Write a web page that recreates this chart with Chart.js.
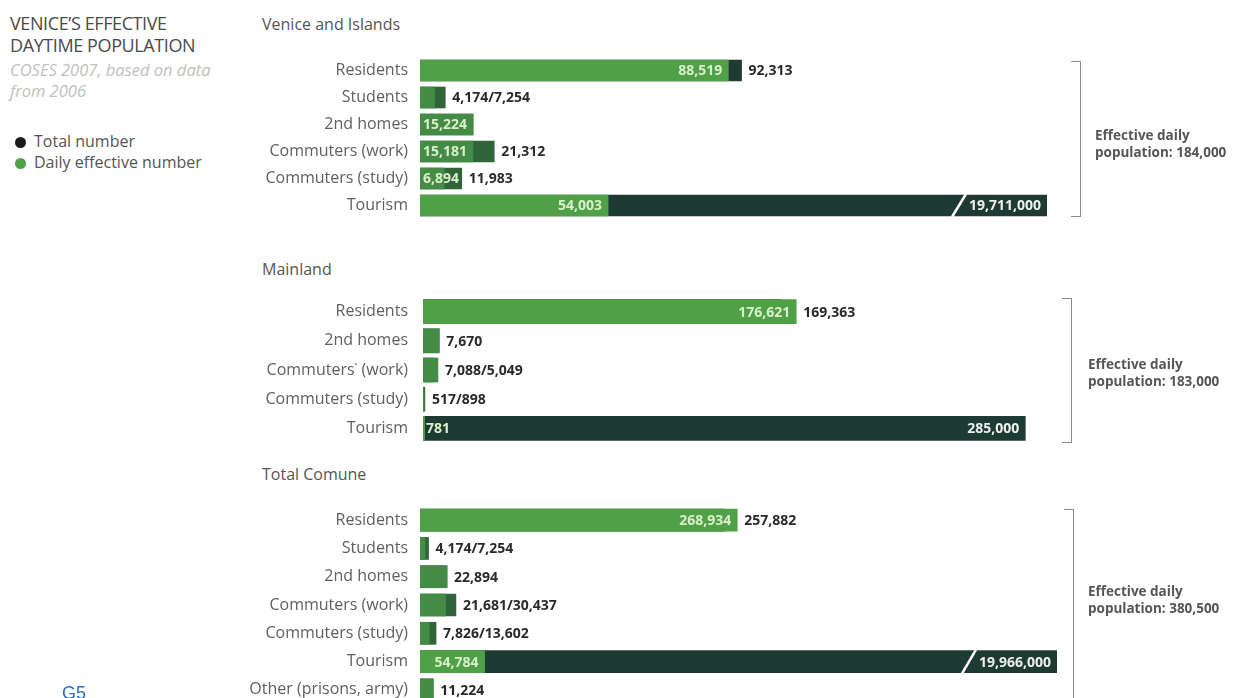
<!DOCTYPE html>
<html>
<head>
<meta charset="utf-8">
<title>Venice's effective daytime population</title>
<script src="https://cdn.jsdelivr.net/npm/chart.js@4.4.1/dist/chart.umd.min.js"></script>
<style>
  body { margin: 0; width: 1236px; height: 698px; overflow: hidden; background: #fff; position: relative; font-family: "Open Sans", sans-serif; }
  .abs { position: absolute; }
  .title { left: 10px; top: 12px; font-size: 18px; line-height: 22px; color: #4a4a4a; letter-spacing: -0.4px; }
  .source { left: 10px; top: 59px; font-size: 16.5px; line-height: 21px; color: #c0c0c0; font-style: italic; }
  .legend { left: 15px; top: 131px; font-size: 16px; line-height: 21px; color: #555; }
  .legend span.dot { display: inline-block; width: 11px; height: 11px; border-radius: 50%; margin-right: 8px; vertical-align: -1px; }
  .section { left: 262px; font-size: 16px; color: #555; }
  .bracket { border: 1.5px solid #8c8c8c; border-left: none; width: 9px; }
  .effective { font-size: 13.5px; font-weight: 700; line-height: 17px; color: #555; }
  .g5 { left: 62px; top: 684px; font-family: "Liberation Sans", Arial, sans-serif; font-size: 18px; color: #2a6fc0; line-height: 1; }
  canvas { position: absolute; left: 0; }
</style>
</head>
<body>
<div class="abs title">VENICE’S EFFECTIVE<br>DAYTIME POPULATION</div>
<div class="abs source">COSES 2007, based on data<br>from 2006</div>
<div class="abs legend">
  <div><span class="dot" style="background:#1c1c1c"></span>Total number</div>
  <div><span class="dot" style="background:#4fa046"></span>Daily effective number</div>
</div>

<div class="abs section" style="top:13px">Venice and Islands</div>
<div class="abs section" style="top:258px">Mainland</div>
<div class="abs section" style="top:463px">Total Comune</div>

<canvas id="chart-venice" width="1236" height="162" style="top:57px"></canvas>
<canvas id="chart-mainland" width="1236" height="146" style="top:297px"></canvas>
<canvas id="chart-comune" width="1236" height="198" style="top:506px"></canvas>

<div class="abs bracket" style="left:1071px; top:61px; height:154px"></div>
<div class="abs bracket" style="left:1062px; top:298px; height:143px"></div>
<div class="abs bracket" style="left:1064px; top:509px; height:200px"></div>

<div class="abs effective" id="eff-venice" style="left:1095px; top:127px"></div>
<div class="abs effective" id="eff-mainland" style="left:1088px; top:356px"></div>
<div class="abs effective" id="eff-comune" style="left:1088px; top:583px"></div>

<div class="abs g5">G5</div>

<script>
// Venice and Islands
const veniceRows = ["Residents", "Students", "2nd homes", "Commuters (work)", "Commuters (study)", "Tourism"];
const veniceTotal = [92313, 7254, 15224, 21312, 11983, 19711000];
const veniceEffective = [88519, 4174, 15224, 15181, 6894, 54003];

// Mainland
const mainlandRows = ["Residents", "2nd homes", "Commuters˙ (work)", "Commuters (study)", "Tourism"];
const mainlandTotal = [169363, 7670, 5049, 898, 285000];
const mainlandEffective = [176621, 7670, 7088, 517, 781];

// Total Comune
const comuneRows = ["Residents", "Students", "2nd homes", "Commuters (work)", "Commuters (study)", "Tourism", "Other (prisons, army)"];
const comuneTotal = [257882, 7254, 22894, 30437, 13602, 19966000, 11224];
const comuneEffective = [268934, 4174, 22894, 21681, 7826, 54784, 11224];

const effectivePopulation = ["184,000", "183,000", "380,500"];

// how the numbers are written next to each bar
const veniceLabelModes = ["split", "pair", "inside", "split", "split", "split"];
const mainlandLabelModes = ["split", "single", "pair", "pair", "split"];
const comuneLabelModes = ["split", "pair", "single", "pair", "pair", "split", "single"];

const Colors = {
  green: "#4fa046",
  greenSoft: "#448c45",
  dark: "#1d3b32",
  darkSoft: "#2f6538",
  text: "#606060",
  number: "#2a2a2a",
  onBar: "#d9efcc",
  onDark: "#eef0ee",
};

const isMajor = name => name === "Residents" || name === "Tourism";
const fmt = v => v.toLocaleString("en-US");

const valueLabels = {
  id: "valueLabels",
  afterDatasetsDraw(chart, args, opts) {
    const { ctx, chartArea } = chart;
    const totals = chart.getDatasetMeta(0).data;
    const effs = chart.getDatasetMeta(1).data;
    const totalVals = chart.data.datasets[0].data;
    const effVals = chart.data.datasets[1].data;

    ctx.save();
    ctx.font = "bold 14px 'Open Sans'";
    ctx.textBaseline = "middle";

    const effInside = (e, base, y, text) => {
      const end = Math.min(e.x, chartArea.right);
      const w = ctx.measureText(text).width;
      ctx.fillStyle = Colors.onBar;
      if (end - base > w + 10) {
        ctx.textAlign = "right";
        ctx.fillText(text, end - 6, y + 1);
      } else {
        ctx.textAlign = "left";
        ctx.fillText(text, base + 3, y + 1);
      }
    };

    opts.modes.forEach((mode, i) => {
      const t = totals[i], e = effs[i];
      const y = t.y, base = t.base;
      const tEnd = Math.min(t.x, chartArea.right);
      const eEnd = Math.min(e.x, chartArea.right);
      const outerX = Math.max(tEnd, eEnd) + 7;
      const tText = fmt(totalVals[i]);
      const eText = fmt(effVals[i]);

      if (mode === "pair" || mode === "single") {
        ctx.fillStyle = Colors.number;
        ctx.textAlign = "left";
        ctx.fillText(mode === "pair" ? eText + "/" + tText : tText, outerX, y + 1);
        return;
      }

      effInside(e, base, y, eText);
      if (mode === "inside") return;

      const w = ctx.measureText(tText).width;
      if (tEnd - eEnd > w + 20) {
        ctx.fillStyle = Colors.onDark;
        ctx.textAlign = "right";
        ctx.fillText(tText, tEnd - 6, y + 1);
        if (t.x > chartArea.right) {
          // break mark on a bar that runs off the scale
          const sx = tEnd - w - 16;
          const h = t.height / 2 + 1;
          ctx.strokeStyle = "#ffffff";
          ctx.lineWidth = 2.5;
          ctx.beginPath();
          ctx.moveTo(sx - 7, y + h);
          ctx.lineTo(sx + 7, y - h);
          ctx.stroke();
        }
      } else {
        ctx.fillStyle = Colors.number;
        ctx.textAlign = "left";
        ctx.fillText(tText, outerX, y + 1);
      }
    });
    ctx.restore();
  },
};

function createSectionChart(canvasId, rows, total, effective, modes, layout) {
  const el = document.getElementById(canvasId);
  if (!el || typeof Chart === "undefined") return null;

  return new Chart(el, {
    type: "bar",
    data: {
      labels: rows,
      datasets: [
        {
          label: "Total number",
          data: total,
          backgroundColor: rows.map(r => (isMajor(r) ? Colors.dark : Colors.darkSoft)),
          order: 2,
        },
        {
          label: "Daily effective number",
          data: effective,
          backgroundColor: rows.map(r => (isMajor(r) ? Colors.green : Colors.greenSoft)),
          order: 1,
        },
      ],
    },
    options: {
      indexAxis: "y",
      responsive: false,
      animation: false,
      events: [],
      layout: { padding: { left: 0, right: 1236 - layout.right, top: 0, bottom: 0 } },
      datasets: { bar: { grouped: false, barThickness: layout.thickness, borderWidth: 0 } },
      plugins: {
        legend: { display: false },
        tooltip: { enabled: false },
        valueLabels: { modes },
      },
      scales: {
        x: { display: false, min: 0, max: layout.max },
        y: {
          grid: { display: false, drawTicks: false },
          border: { display: false },
          afterFit: s => {
            // fixed gutter for the row names, no extra room above or below
            s.width = layout.left;
            s.paddingTop = 0;
            s.paddingBottom = 0;
          },
          ticks: {
            color: Colors.text,
            padding: layout.left - 408,
            font: { family: "Open Sans", size: 16 },
          },
        },
      },
    },
    plugins: [valueLabels],
  });
}

document.addEventListener("DOMContentLoaded", () => {
  createSectionChart("chart-venice", veniceRows, veniceTotal, veniceEffective, veniceLabelModes,
    { left: 420, right: 1047, max: 180000, thickness: 21 });
  createSectionChart("chart-mainland", mainlandRows, mainlandTotal, mainlandEffective, mainlandLabelModes,
    { left: 423, right: 1057, max: 300000, thickness: 24 });
  createSectionChart("chart-comune", comuneRows, comuneTotal, comuneEffective, comuneLabelModes,
    { left: 420, right: 1057, max: 540000, thickness: 22 });

  ["eff-venice", "eff-mainland", "eff-comune"].forEach((id, i) => {
    document.getElementById(id).innerHTML = "Effective daily<br>population: " + effectivePopulation[i];
  });
});
</script>
</body>
</html>
